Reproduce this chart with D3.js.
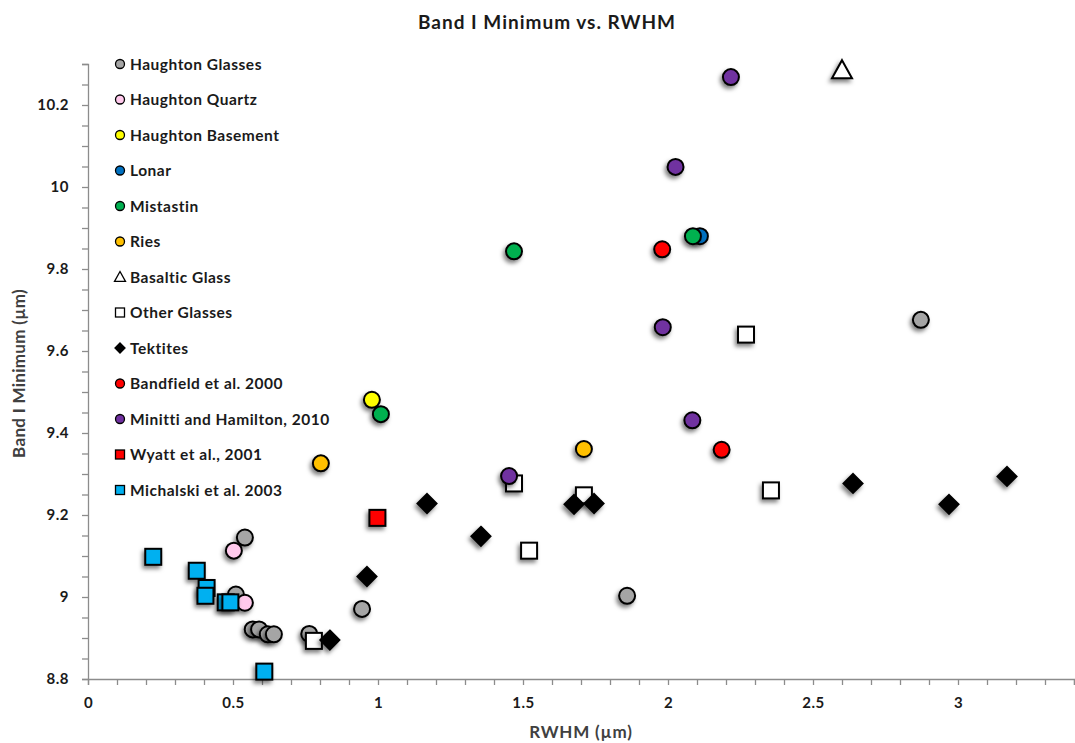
<!DOCTYPE html>
<html>
<head>
<meta charset="utf-8">
<script src="https://cdn.jsdelivr.net/npm/d3@7/dist/d3.min.js"></script>
<style>
  html, body { margin: 0; padding: 0; background: #fff; }
  svg { display: block; font-family: Lato, "Open Sans", sans-serif; }
</style>
</head>
<body>
<svg id="chart" width="1075" height="743"></svg>
<script>
// Band I minimum (µm) against RWHM (µm), one [RWHM, band minimum] pair per sample
const haughtonGlasses = [[0.541, 9.145], [0.510, 9.006], [0.568, 8.921], [0.590, 8.921], [0.620, 8.909], [0.641, 8.909], [0.763, 8.910], [0.945, 8.971], [1.859, 9.003], [2.872, 9.676]];
const haughtonQuartz = [[0.503, 9.113], [0.541, 8.986]];
const haughtonBasement = [[0.979, 9.481]];
const lonar = [[2.110, 9.880]];
const mistastin = [[1.469, 9.843], [2.086, 9.880], [1.010, 9.446]];
const ries = [[0.803, 9.326], [1.710, 9.361]];
const basalticGlass = [[2.600, 10.285]];
const otherGlasses = [[2.269, 9.640], [1.469, 9.277], [1.710, 9.248], [1.521, 9.113], [2.355, 9.260], [0.779, 8.893]];
const tektites = [[1.169, 9.228], [1.355, 9.148], [0.962, 9.050], [0.834, 8.895], [1.676, 9.226], [1.745, 9.228], [2.638, 9.277], [2.969, 9.226], [3.169, 9.294]];
const bandfield2000 = [[1.980, 9.848], [2.185, 9.359]];
const minitti2010 = [[2.217, 10.268], [2.026, 10.049], [1.982, 9.658], [2.084, 9.431], [1.452, 9.295]];
const wyatt2001 = [[0.998, 9.193]];
const michalski2003 = [[0.225, 9.098], [0.375, 9.064], [0.409, 9.022], [0.405, 9.003], [0.475, 8.987], [0.491, 8.987], [0.608, 8.818]];

const seriesNames = ["Haughton Glasses", "Haughton Quartz", "Haughton Basement", "Lonar", "Mistastin", "Ries",
  "Basaltic Glass", "Other Glasses", "Tektites", "Bandfield et al. 2000", "Minitti and Hamilton, 2010",
  "Wyatt et al., 2001", "Michalski et al. 2003"];
const seriesPoints = [haughtonGlasses, haughtonQuartz, haughtonBasement, lonar, mistastin, ries,
  basalticGlass, otherGlasses, tektites, bandfield2000, minitti2010, wyatt2001, michalski2003];

const xDomain = [0, 3.4];
const yDomain = [8.8, 10.3];

// marker look for each series
const markerStyle = {
  "Haughton Glasses": { shape: "circle", fill: "#a5a5a5" },
  "Haughton Quartz": { shape: "circle", fill: "#ffc9ec" },
  "Haughton Basement": { shape: "circle", fill: "#ffff00" },
  "Lonar": { shape: "circle", fill: "#0070c0" },
  "Mistastin": { shape: "circle", fill: "#00b050" },
  "Ries": { shape: "circle", fill: "#ffc000" },
  "Basaltic Glass": { shape: "triangle", fill: "#ffffff" },
  "Other Glasses": { shape: "square", fill: "#ffffff" },
  "Tektites": { shape: "diamond", fill: "#000000" },
  "Bandfield et al. 2000": { shape: "circle", fill: "#ff0000" },
  "Minitti and Hamilton, 2010": { shape: "circle", fill: "#7030a0" },
  "Wyatt et al., 2001": { shape: "square", fill: "#ff0000" },
  "Michalski et al. 2003": { shape: "square", fill: "#00b0f0" }
};

const svg = d3.select("#chart");
const plot = { left: 88, right: 1074, top: 64, bottom: 679 };

const x = d3.scaleLinear().domain(xDomain).range([plot.left, plot.right]);
const y = d3.scaleLinear().domain(yDomain).range([plot.bottom, plot.top]);

// soft shadow under the plotted markers
const defs = svg.append("defs");
const shadow = defs.append("filter").attr("id", "markShadow")
  .attr("x", "-60%").attr("y", "-60%").attr("width", "220%").attr("height", "220%");
shadow.append("feDropShadow").attr("dx", -2).attr("dy", 3).attr("stdDeviation", 2)
  .attr("flood-color", "#000").attr("flood-opacity", 0.5);

const axisColor = "#8c8c8c";
const labelColor = "#1a1a1a";

// x axis: ticks every 0.1, labels every 0.5
const xTicks = d3.range(0, 34.5, 1).map(d => +(d / 10).toFixed(1));
const xAxis = d3.axisBottom(x).tickValues(xTicks).tickSizeOuter(0).tickSize(6)
  .tickFormat(d => (Math.round(d * 10) % 5 === 0) ? d3.format("~g")(d) : "");
const gx = svg.append("g").attr("transform", `translate(0,${plot.bottom})`).call(xAxis);

// y axis: ticks every 0.05, labels every 0.2
const yTicks = d3.range(176, 207, 1).map(d => +(d / 20).toFixed(2));
const yAxis = d3.axisLeft(y).tickValues(yTicks).tickSizeOuter(0).tickSize(6)
  .tickFormat(d => (Math.round(d * 20) % 4 === 0) ? d3.format("~g")(d) : "");
const gy = svg.append("g").attr("transform", `translate(${plot.left},0)`).call(yAxis);

[gx, gy].forEach(g => {
  g.select(".domain").attr("stroke", axisColor).attr("stroke-width", 1.3);
  g.selectAll(".tick line").attr("stroke", axisColor).attr("stroke-width", 1.3);
  g.selectAll(".tick text").attr("fill", labelColor).attr("font-size", 15)
    .attr("font-weight", "bold").attr("font-family", "Lato, sans-serif")
    .attr("letter-spacing", 0.5);
});
gx.selectAll(".tick text").attr("dy", "1.3em");
gy.selectAll(".tick text").attr("x", -19);

// titles
svg.append("text").attr("x", 547).attr("y", 29).attr("text-anchor", "middle")
  .attr("font-size", 19).attr("font-weight", "bold").attr("fill", labelColor)
  .attr("letter-spacing", 1)
  .text("Band I Minimum vs. RWHM");
svg.append("text").attr("x", (plot.left + plot.right) / 2).attr("y", 738).attr("text-anchor", "middle")
  .attr("font-size", 17).attr("font-weight", "bold").attr("fill", "#404040")
  .attr("letter-spacing", 0.8)
  .text("RWHM (µm)");
svg.append("text").attr("transform", `translate(25,${(plot.top + plot.bottom) / 2 + 2}) rotate(-90)`)
  .attr("text-anchor", "middle").attr("font-size", 17).attr("font-weight", "bold").attr("fill", "#404040")
  .attr("letter-spacing", 0.3)
  .text("Band I Minimum (µm)");

// draw one marker centred at the origin of the given group
function drawMarker(g, style, size, strokeW) {
  const h = size / 2;
  if (style.shape === "circle") {
    g.append("circle").attr("r", h).attr("fill", style.fill).attr("stroke", "#000").attr("stroke-width", strokeW);
  } else if (style.shape === "square") {
    g.append("rect").attr("x", -h).attr("y", -h).attr("width", size).attr("height", size)
      .attr("fill", style.fill).attr("stroke", "#000").attr("stroke-width", strokeW);
  } else if (style.shape === "diamond") {
    g.append("path").attr("d", `M0,${-h}L${h},0L0,${h}L${-h},0Z`)
      .attr("fill", style.fill).attr("stroke", "#000").attr("stroke-width", strokeW);
  } else if (style.shape === "triangle") {
    g.append("path").attr("d", `M0,${-h}L${h},${h * 0.8}L${-h},${h * 0.8}Z`)
      .attr("fill", style.fill).attr("stroke", "#000").attr("stroke-width", strokeW);
  }
}

// plotted points, in series order so later series sit on top
const marks = svg.append("g");
seriesNames.forEach((name, i) => {
  const style = markerStyle[name];
  const sg = marks.append("g").attr("class", "series");
  seriesPoints[i].forEach(p => {
    const g = sg.append("g").attr("transform", `translate(${x(p[0])},${y(p[1])})`)
      .attr("filter", "url(#markShadow)");
    const size = style.shape === "diamond" ? 19 : style.shape === "triangle" ? 20 : 16;
    drawMarker(g, style, size, 2);
  });
});

// legend
const legend = svg.append("g");
seriesNames.forEach((name, i) => {
  const style = markerStyle[name];
  const ly = 64 + i * 35.5;
  const mg = legend.append("g").attr("transform", `translate(120,${ly})`);
  const size = style.shape === "diamond" ? 10 : style.shape === "triangle" ? 11 : 9;
  drawMarker(mg, style, size, 1.3);
  legend.append("text").attr("x", 130).attr("y", ly).attr("dy", "0.36em")
    .attr("font-size", 15.5).attr("font-weight", "bold").attr("fill", labelColor)
    .attr("letter-spacing", 0.5)
    .text(name);
});
</script>
</body>
</html>
